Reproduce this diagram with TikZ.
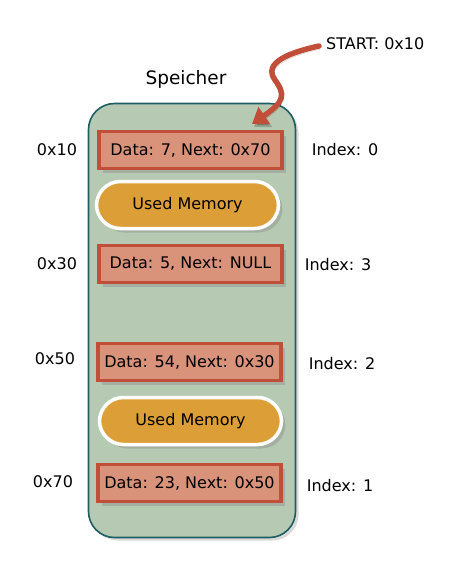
\documentclass[tikz,border=0pt]{standalone}
\usepackage{fontspec}
\setmainfont{DejaVu Sans}
\usetikzlibrary{shadows,arrows.meta}
\definecolor{memfill}{HTML}{B6CAB3}
\definecolor{memdraw}{HTML}{1E5E63}
\definecolor{datafill}{HTML}{D9937A}
\definecolor{datadraw}{HTML}{C04E38}
\definecolor{usedfill}{HTML}{DC9E36}
\begin{document}
\begin{tikzpicture}[x=1pt,y=-1pt,
  every node/.style={font=\fontsize{16}{19}\selectfont},
  databox/.style={draw=datadraw,fill=datafill,line width=3.5pt,minimum width=183pt,minimum height=37pt,inner sep=0pt,
     drop shadow={shadow xshift=4pt,shadow yshift=-4pt,opacity=0.35}},
  usedbox/.style={draw=white,fill=usedfill,line width=3.5pt,rounded corners=24pt,minimum width=182pt,minimum height=47pt,inner sep=0pt,
     drop shadow={shadow xshift=4pt,shadow yshift=-4pt,opacity=0.35}},
  lbl/.style={inner sep=0pt}]
\useasboundingbox (0,0) rectangle (469,563);
\node[draw=memdraw,fill=memfill,line width=1.6pt,rounded corners=26pt,minimum width=207pt,minimum height=434pt,
  drop shadow={shadow xshift=3pt,shadow yshift=-3pt,opacity=0.3}] (mem) at (192,320.5) {};
\node[lbl,font=\fontsize{18.5}{22}\selectfont] (title) at (186,79) {Speicher};
\node[databox] (d1) at (190.5,150) {Data: 7, Next: 0x70};
\node[usedbox] (u1) at (187.5,205) {Used Memory};
\node[databox] (d2) at (190.5,264) {Data: 5, Next: NULL};
\node[databox] (d3) at (189.5,362) {Data: 54, Next: 0x30};
\node[usedbox] (u2) at (190.5,421) {Used Memory};
\node[databox] (d4) at (189.5,483) {Data: 23, Next: 0x50};
\node[lbl] (a1) at (57,150) {0x10};
\node[lbl] (a2) at (57,264) {0x30};
\node[lbl] (a3) at (55,359) {0x50};
\node[lbl] (a4) at (53,482) {0x70};
\node[lbl] (i1) at (345,150) {Index: 0};
\node[lbl] (i2) at (338,265) {Index: 3};
\node[lbl] (i3) at (342,364) {Index: 2};
\node[lbl] (i4) at (340,486) {Index: 1};
\node[lbl,anchor=west] (start) at (326,44) {START: 0x10};
\coordinate (tip) at (252,124);
\draw[datadraw,line width=5.5pt,line cap=round,-{Triangle[length=15pt,width=20pt]},
  preaction={draw=black,opacity=0.2,transform canvas={shift={(2pt,-3pt)}}}]
  (start.west) ++(-7,2) .. controls (292,52) and (262,62) .. (275,80)
  .. controls (286,95) and (284,102) .. (tip);
\end{tikzpicture}
\end{document}
